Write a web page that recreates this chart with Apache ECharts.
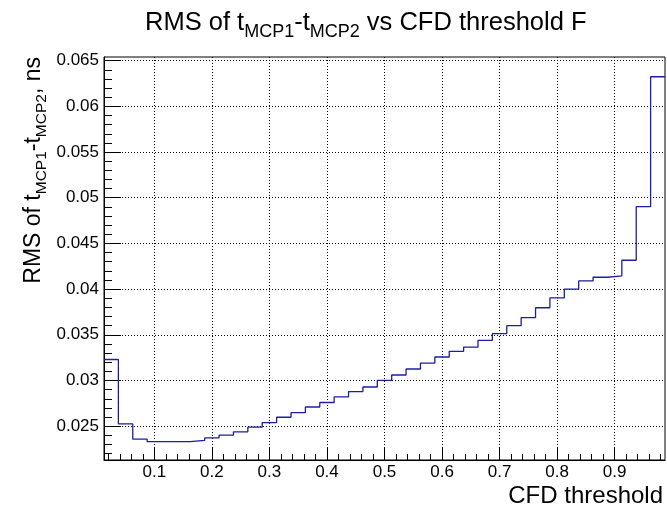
<!DOCTYPE html>
<html><head><meta charset="utf-8">
<script src="https://cdn.jsdelivr.net/npm/echarts@6/dist/echarts.min.js"></script>
<style>html,body{margin:0;padding:0;background:#fff}#c{width:667px;height:509px}</style>
</head><body><div id="c"></div>
<script>
// ---- data ----
const binCenters = [0.025,0.05,0.075,0.1,0.125,0.15,0.175,0.2,0.225,0.25,0.275,0.3,0.325,0.35,0.375,0.4,0.425,0.45,0.475,0.5,
  0.525,0.55,0.575,0.6,0.625,0.65,0.675,0.7,0.725,0.75,0.775,0.8,0.825,0.85,0.875,0.9,0.925,0.95,0.975];
const rmsValues = [0.0323,0.02525,0.02358,0.0233,0.0233,0.0233,0.02344,0.02372,0.02402,0.02438,
  0.02489,0.0254,0.02598,0.02648,0.0271,0.02759,0.0282,0.02879,0.02929,0.03002,
  0.0306,0.03126,0.03191,0.03257,0.03319,0.03366,0.0344,0.03512,0.036,0.03687,
  0.03796,0.03905,0.03999,0.0409,0.0413,0.04145,0.04316,0.04902,0.06324];
const binWidth = 0.025;
const xTickLabels = [0.1,0.2,0.3,0.4,0.5,0.6,0.7,0.8,0.9];
const yTickLabels = [0.025,0.03,0.035,0.04,0.045,0.05,0.055,0.06,0.065];
const xRange = [0.0125, 0.9875];
const yRange = [0.0213, 0.0654];

// ---- derived ----
const stepData = binCenters.map((c, i) => [c - binWidth / 2, rmsValues[i]]);
stepData.push([binCenters[binCenters.length - 1] + binWidth / 2, rmsValues[rmsValues.length - 1]]);
const xMinor = [];
for (let k = 1; k < 50; k++) { if (k % 5) { const v = +(k * 0.02).toFixed(3); if (v > xRange[0] && v < xRange[1]) xMinor.push(v); } }
const yMinor = [];
for (let k = 22; k <= 65; k++) { if (k % 5) { const v = +(k * 0.001).toFixed(3); if (v > yRange[0] && v < yRange[1]) yMinor.push(v); } }

const FONT = 'Liberation Sans';
const gridLine = { show: true, lineStyle: { color: '#000', width: 1, type: [1, 2] } };

const chart = echarts.init(document.getElementById('c'), null, { renderer: 'canvas' });
chart.setOption({
  animation: false,
  backgroundColor: '#fff',
  title: {
    text: '{a|RMS of t}{b|MCP1}{a|-t}{b|MCP2}{a| vs CFD threshold F}',
    left: 140, top: 0,
    textStyle: {
      rich: {
        a: { fontFamily: FONT, fontSize: 25.5, fontWeight: 'normal', color: '#000' },
        b: { fontFamily: FONT, fontSize: 18, fontWeight: 'normal', color: '#000', padding: [18, 0, 0, 0] }
      }
    }
  },
  grid: { left: 104, right: 2, top: 57, bottom: 49, show: true, borderColor: '#000', borderWidth: 1, backgroundColor: 'transparent' },
  xAxis: [{
    type: 'value', min: xRange[0], max: xRange[1], position: 'bottom',
    axisLine: { show: true, onZero: false, lineStyle: { color: '#000', width: 1 } },
    axisTick: { show: true, inside: true, length: 12, customValues: xTickLabels, lineStyle: { color: '#000' } },
    axisLabel: { show: true, customValues: xTickLabels, margin: 4, fontFamily: FONT, fontSize: 17, color: '#000', formatter: v => String(+v.toFixed(3)) },
    splitLine: gridLine,
    name: 'CFD threshold', nameLocation: 'end', nameGap: -2,
    nameTextStyle: { fontFamily: FONT, fontSize: 24, color: '#000', align: 'right', verticalAlign: 'top', padding: [24, 0, 0, 0] }
  }, {
    type: 'value', min: xRange[0], max: xRange[1], position: 'bottom',
    axisLine: { show: false },
    axisTick: { show: true, inside: true, length: 6, customValues: xMinor, lineStyle: { color: '#000' } },
    axisLabel: { show: false }, splitLine: { show: false }
  }],
  yAxis: [{
    type: 'value', min: yRange[0], max: yRange[1], position: 'left',
    axisLine: { show: true, onZero: false, lineStyle: { color: '#000', width: 1 } },
    axisTick: { show: true, inside: true, length: 17, customValues: yTickLabels, lineStyle: { color: '#000' } },
    axisLabel: { show: true, customValues: yTickLabels, margin: 5, fontFamily: FONT, fontSize: 17, color: '#000', formatter: v => String(+v.toFixed(4)) },
    splitLine: gridLine
  }, {
    type: 'value', min: yRange[0], max: yRange[1], position: 'left',
    axisLine: { show: false },
    axisTick: { show: true, inside: true, length: 8, customValues: yMinor, lineStyle: { color: '#000' } },
    axisLabel: { show: false }, splitLine: { show: false }
  }],
  graphic: [{
    type: 'text', x: 18, y: 57, rotation: Math.PI / 2,
    style: {
      text: '{a|RMS of t}{b|MCP1}{a|-t}{b|MCP2}{a|, ns}',
      align: 'right', verticalAlign: 'top',
      rich: {
        a: { fontFamily: FONT, fontSize: 23, fill: '#000' },
        b: { fontFamily: FONT, fontSize: 15.5, fill: '#000', padding: [16, 0, 0, 0] }
      }
    }
  }],
  series: [{
    type: 'line', xAxisIndex: 0, yAxisIndex: 0, step: 'end', data: stepData,
    showSymbol: false, symbol: 'none',
    lineStyle: { color: '#1c1ca6', width: 1.3 }
  }]
});
</script></body></html>
